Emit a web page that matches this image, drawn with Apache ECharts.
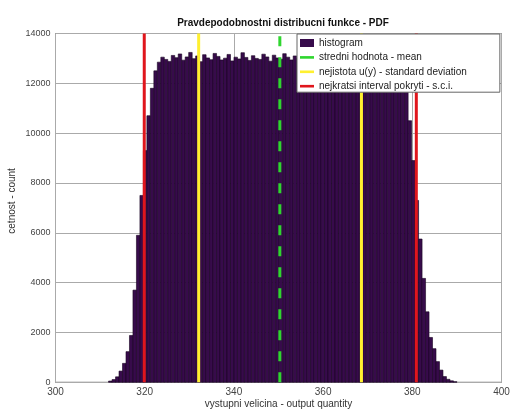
<!DOCTYPE html>
<html><head><meta charset="utf-8">
<script src="https://cdn.jsdelivr.net/npm/echarts@6/dist/echarts.min.js"></script>
<style>html,body{margin:0;padding:0;background:#fff}#c{width:510px;height:412px}</style>
</head><body><div id="c"></div>
<script>
const titleText = 'Pravdepodobnostni distribucni funkce - PDF';
const xName = 'vystupni velicina - output quantity';
const yName = 'cetnost - count';
const binStart = 311.9;
const binWidth = 0.781;
const counts = [
  50, 110, 220, 450, 760, 1230, 1880, 3700, 5900, 7500,
  9300, 10700, 11800, 12500, 12850, 13050, 12960, 12880, 13120, 13030,
  13180, 12930, 13060, 13240, 12990, 13100, 12870, 13150, 13020, 12950,
  13200, 13080, 12940, 13010, 13160, 12900, 13050, 12980, 13230, 13040,
  12920, 13110, 13000, 12960, 13170, 13060, 12890, 13130, 13020, 12970,
  13190, 13050, 12940, 13100, 13010, 13150, 12930, 13070, 13200, 12980,
  13090, 12950, 13120, 13030, 12900, 13160, 13040, 12980, 13110, 13020,
  12940, 13180, 13060, 12990, 13130, 13000, 12920, 13080, 13020, 12960,
  12980, 12950, 12900, 12700, 12300, 11800, 10500, 8900, 7300, 5750,
  4170, 2830, 1800, 1350, 830, 490, 230, 120, 60, 25
];
const meanValue = 350.3;
const stdBounds = [332.1, 368.6];
const sciBounds = [319.9, 380.9];
const xRange = [300, 400, 20];
const yRange = [0, 14000, 2000];
const legendNames = ['histogram', 'stredni hodnota - mean', 'nejistota u(y) - standard deviation', 'nejkratsi interval pokryti - s.c.i.'];

const FONT = 'Liberation Sans, Arial, sans-serif';
const lineIcon = 'path://M0,0H16V3H0Z';
const histData = counts.map((c, i) => [binStart + i * binWidth, binStart + (i + 1) * binWidth, c]);

function vline(name, x, color, dashed) {
  return {
    name: name, type: 'line', symbol: 'none', z: 3, silent: true,
    color: color,
    data: [[x, yRange[0]], [x, yRange[1]]],
    lineStyle: { color: color, width: 3, type: dashed ? [10, 11] : 'solid' },
    itemStyle: { color: color }
  };
}

const chart = echarts.init(document.getElementById('c'), null, { renderer: 'canvas' });
chart.setOption({
  animation: false,
  backgroundColor: '#fff',
  textStyle: { fontFamily: FONT },
  title: {
    text: titleText, left: 278, top: 13, textAlign: 'center',
    textStyle: { fontSize: 10, fontWeight: 'bold', color: '#111', fontFamily: FONT }
  },
  grid: {
    left: 55.5, right: 8.5, top: 33.5, bottom: 29.7,
    containLabel: false, outerBoundsMode: 'none',
    show: true, borderColor: '#555', borderWidth: 1, backgroundColor: 'transparent'
  },
  legend: {
    orient: 'vertical', left: 297, top: 34, z: 10,
    padding: [4, 33, 1, 3],
    itemWidth: 14, itemHeight: 8, itemGap: 4.4,
    backgroundColor: '#fff', borderColor: '#666', borderWidth: 1,
    symbolKeepAspect: true,
    itemStyle: { borderWidth: 0 },
    textStyle: { fontSize: 10, color: '#222', fontFamily: FONT, lineHeight: 10 },
    data: [
      { name: legendNames[0], icon: 'rect' },
      { name: legendNames[1], icon: lineIcon },
      { name: legendNames[2], icon: lineIcon },
      { name: legendNames[3], icon: lineIcon }
    ],
    selectedMode: false
  },
  xAxis: {
    type: 'value', min: xRange[0], max: xRange[1], interval: xRange[2],
    name: xName, nameLocation: 'middle', nameGap: 17, nameMoveOverlap: false,
    nameTextStyle: { fontSize: 10, color: '#333', fontFamily: FONT },
    axisLine: { show: false },
    axisTick: { show: false },
    axisLabel: { fontSize: 10, color: '#444', margin: 5, fontFamily: FONT, formatter: v => String(v) },
    splitLine: { show: true, lineStyle: { color: '#aaa', width: 1 } }
  },
  yAxis: {
    type: 'value', min: yRange[0], max: yRange[1], interval: yRange[2],
    name: yName, nameLocation: 'middle', nameGap: 38, nameMoveOverlap: false,
    nameTextStyle: { fontSize: 10, color: '#333', fontFamily: FONT, padding: [0, 0, 0, 14] },
    axisLine: { show: false },
    axisTick: { show: false },
    axisLabel: { fontSize: 9, color: '#444', margin: 5, fontFamily: FONT, formatter: v => String(v) },
    splitLine: { show: true, lineStyle: { color: '#aaa', width: 1 } }
  },
  series: [
    {
      name: legendNames[0], type: 'custom', z: 2,
      color: '#370b4b',
      itemStyle: { color: '#370b4b' },
      encode: { x: [0, 1], y: 2 },
      data: histData,
      renderItem: function (params, api) {
        const p0 = api.coord([api.value(0), api.value(2)]);
        const p1 = api.coord([api.value(1), 0]);
        return {
          type: 'rect',
          shape: { x: p0[0], y: p0[1], width: p1[0] - p0[0], height: p1[1] - p0[1] },
          style: { fill: '#370b4b', stroke: '#180420', lineWidth: 0.6 }
        };
      }
    },
    vline(legendNames[1], meanValue, '#2fd62f', true),
    vline(legendNames[2], stdBounds[0], '#fff030', false),
    vline(legendNames[2], stdBounds[1], '#fff030', false),
    vline(legendNames[3], sciBounds[0], '#e0161c', false),
    vline(legendNames[3], sciBounds[1], '#e0161c', false)
  ]
});
</script>
</body></html>
